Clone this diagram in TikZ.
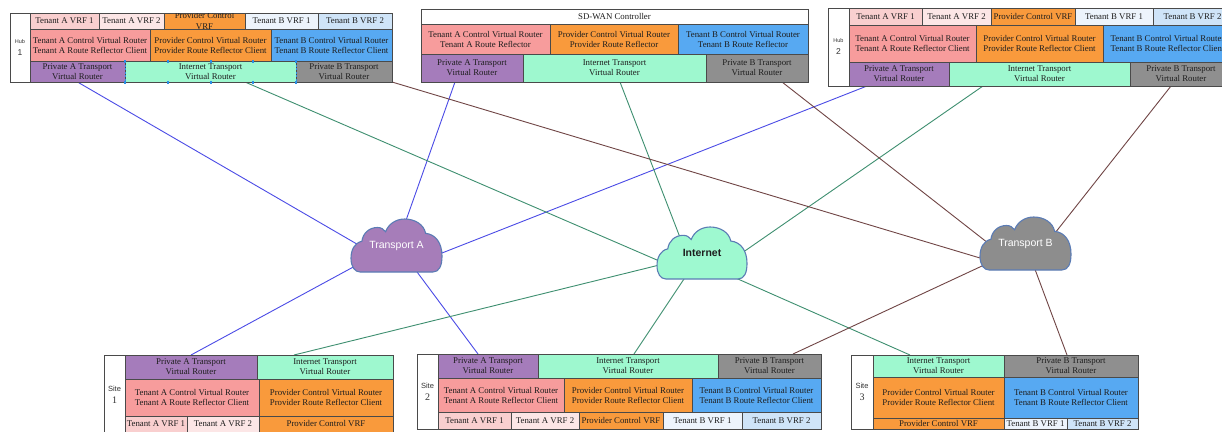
\documentclass[tikz,border=0pt]{standalone}
\usepackage{fontspec}
\setmainfont{Liberation Serif}
\newfontfamily\labelsans{Liberation Sans}
\usetikzlibrary{calc,backgrounds}

\definecolor{boxline}{HTML}{4A4A4A}
\definecolor{vrfAa}{HTML}{F9CFCF}
\definecolor{vrfAb}{HTML}{FCE6E6}
\definecolor{provc}{HTML}{F99A3C}
\definecolor{vrfBa}{HTML}{EDF4FC}
\definecolor{vrfBb}{HTML}{CFE4F8}
\definecolor{ctrlA}{HTML}{F79C9C}
\definecolor{ctrlB}{HTML}{57A9F2}
\definecolor{privA}{HTML}{A57CBB}
\definecolor{inetc}{HTML}{9EF8CF}
\definecolor{privB}{HTML}{8F8F8F}
\definecolor{cloudA}{HTML}{A67DB9}
\definecolor{cloudI}{HTML}{9EF9D0}
\definecolor{cloudB}{HTML}{8D8D8D}
\definecolor{cloudedge}{HTML}{5B7CB5}
\definecolor{lnA}{HTML}{4B4BE6}
\definecolor{lnI}{HTML}{3E8F70}
\definecolor{lnB}{HTML}{704545}
\definecolor{txt}{HTML}{1E1E1E}
\definecolor{labtxt}{HTML}{333333}
\definecolor{handle}{HTML}{2C8FE6}

\tikzset{
  cellbox/.style={rectangle, draw=boxline, line width=0.7pt, inner sep=0pt, outer sep=0pt},
  celltext/.style={inner sep=0pt, align=center, text=txt, font=\fontsize{8.8}{10}\selectfont},
  grouplab/.style={inner sep=0pt, align=center, text=labtxt},
  cloudst/.style={draw=cloudedge, line width=1.1pt},
  cloudtxt/.style={inner sep=0pt, font=\labelsans\fontsize{10.5}{12}\selectfont},
  linkA/.style={draw=lnA, line width=0.9pt},
  linkI/.style={draw=lnI, line width=0.9pt},
  linkB/.style={draw=lnB, line width=0.9pt},
  selside/.style={draw=handle, line width=0.8pt, dash pattern=on 2pt off 1.5pt},
}

% a filled box between two corners (pixel-style coordinates) with centred text
\newcommand\vrcell[7]{%
  \node[cellbox, fill=#6, minimum width={(#4-#2)*1pt}, minimum height={(#5-#3)*1pt}]
    (#1) at ({(#2+#4)/2},{(#3+#5)/2}) {};
  \node[celltext] (#1-t) at (#1.center) {#7};}

% cloud outline drawn in a 100x100 local frame
\newcommand\cloudshape[5]{%
  \begin{scope}[shift={(#1,#2)}, x=#3, y=#4]
    \draw[cloudst, fill=#5] (10,100) -- (90,100)
      .. controls (97,100) and (100,88) .. (100,70)
      .. controls (100,45) and (93,29) .. (82,27)
      .. controls (80,10) and (70,0) .. (59,0)
      .. controls (49,0) and (41,10) .. (38,24)
      .. controls (36,19) and (33,16) .. (29,16)
      .. controls (20,16) and (13,27) .. (12,42)
      .. controls (4,45) and (0,58) .. (0,74)
      .. controls (0,90) and (4,100) .. (10,100) -- cycle;
  \end{scope}}

\newcommand\ctrlAtxt{Tenant A Control Virtual Router\\Tenant A Route Reflector Client}
\newcommand\provtxt{Provider Control Virtual Router\\Provider Route Reflector Client}
\newcommand\ctrlBtxt{Tenant B Control Virtual Router\\Tenant B Route Reflector Client}
\newcommand\privAtxt{Private A Transport\\Virtual Router}
\newcommand\inettxt{Internet Transport\\Virtual Router}
\newcommand\privBtxt{Private B Transport\\Virtual Router}

\begin{document}
\begin{tikzpicture}[x=1pt, y=-1pt]
\useasboundingbox (0,0) rectangle (1222,431);
\clip (0,0) rectangle (1222,431);

% ---------------- Hub 1 ----------------
\vrcell{h1lab}{10}{13}{30}{82}{white}{}
\node[grouplab] (h1name) at (h1lab.center)
  {{\labelsans\fontsize{5.5}{6.5}\selectfont Hub}\\{\labelsans\fontsize{8.5}{9}\selectfont 1}};
\vrcell{h1av1}{30}{13}{99}{29}{vrfAa}{Tenant A VRF 1}
\vrcell{h1av2}{99}{13}{164}{29}{vrfAb}{Tenant A VRF 2}
\vrcell{h1pv}{164}{13}{245}{29}{provc}{}
\begin{scope}
  \clip (h1pv.south west) rectangle (h1pv.north east);
  \node[celltext, font=\fontsize{8.8}{11.5}\selectfont] (h1pv-t) at (h1pv.center) {Provider Control\\VRF};
\end{scope}
\vrcell{h1bv1}{245}{13}{318}{29}{vrfBa}{Tenant B VRF 1}
\vrcell{h1bv2}{318}{13}{392}{29}{vrfBb}{Tenant B VRF 2}
\vrcell{h1ac}{30}{29}{150}{61}{ctrlA}{\ctrlAtxt}
\vrcell{h1pc}{150}{29}{271}{61}{provc}{\provtxt}
\vrcell{h1bc}{271}{29}{392}{61}{ctrlB}{\ctrlBtxt}
\vrcell{h1pa}{30}{61}{125}{82}{privA}{\privAtxt}
\vrcell{h1in}{125}{61}{296}{82}{inetc}{\inettxt}
\vrcell{h1pb}{296}{61}{392}{82}{privB}{\privBtxt}
% selection frame on the hub 1 internet router
\draw[selside] (h1in.north west) -- (h1in.south west);
\draw[selside] (h1in.north east) -- (h1in.south east);
\foreach \t in {0,0.25,0.5,0.75,1} {
  \fill[handle] ($(h1in.north west)!\t!(h1in.north east)$) +(-1,-1.5) rectangle +(1,1.5);
  \fill[handle] ($(h1in.south west)!\t!(h1in.south east)$) +(-1,-1.5) rectangle +(1,1.5);
}

% ---------------- SD-WAN controller ----------------
\vrcell{ctt}{421}{9}{808}{24}{white}{SD-WAN Controller}
\vrcell{ctac}{421}{24}{550}{54}{ctrlA}{Tenant A Control Virtual Router\\Tenant A Route Reflector}
\vrcell{ctpc}{550}{24}{678}{54}{provc}{Provider Control Virtual Router\\Provider Route Reflector}
\vrcell{ctbc}{678}{24}{808}{54}{ctrlB}{Tenant B Control Virtual Router\\Tenant B Route Reflector}
\vrcell{ctpa}{421}{54}{523}{82}{privA}{\privAtxt}
\vrcell{ctin}{523}{54}{706}{82}{inetc}{\inettxt}
\vrcell{ctpb}{706}{54}{808}{82}{privB}{\privBtxt}

% ---------------- Hub 2 ----------------
\vrcell{h2lab}{828}{8}{849}{86}{white}{}
\node[grouplab] (h2name) at (h2lab.center)
  {{\labelsans\fontsize{5.5}{6.5}\selectfont Hub}\\{\labelsans\fontsize{8.5}{9}\selectfont 2}};
\vrcell{h2av1}{849}{8}{922}{25}{vrfAa}{Tenant A VRF 1}
\vrcell{h2av2}{922}{8}{991}{25}{vrfAb}{Tenant A VRF 2}
\vrcell{h2pv}{991}{8}{1075}{25}{provc}{Provider Control VRF}
\vrcell{h2bv1}{1075}{8}{1153}{25}{vrfBa}{Tenant B VRF 1}
\vrcell{h2bv2}{1153}{8}{1232}{25}{vrfBb}{Tenant B VRF 2}
\vrcell{h2ac}{849}{25}{976}{62}{ctrlA}{\ctrlAtxt}
\vrcell{h2pc}{976}{25}{1103}{62}{provc}{\provtxt}
\vrcell{h2bc}{1103}{25}{1232}{62}{ctrlB}{\ctrlBtxt}
\vrcell{h2pa}{849}{62}{949}{86}{privA}{\privAtxt}
\vrcell{h2in}{949}{62}{1130}{86}{inetc}{\inettxt}
\vrcell{h2pb}{1130}{62}{1232}{86}{privB}{\privBtxt}

% ---------------- Site 1 ----------------
\vrcell{s1lab}{104}{355}{125}{434}{white}{}
\node[grouplab] (s1name) at (s1lab.center)
  {\labelsans\fontsize{7.5}{11}\selectfont Site\\1};
\vrcell{s1pa}{125}{355}{257}{379}{privA}{\privAtxt}
\vrcell{s1in}{257}{355}{393}{379}{inetc}{\inettxt}
\vrcell{s1ac}{125}{379}{259}{416}{ctrlA}{\ctrlAtxt}
\vrcell{s1pc}{259}{379}{393}{416}{provc}{\provtxt}
\vrcell{s1av1}{125}{416}{187}{434}{vrfAa}{}
\vrcell{s1av2}{187}{416}{259}{434}{vrfAb}{}
\vrcell{s1pv}{259}{416}{393}{434}{provc}{}
\node[celltext] (s1av1-l) at ($(s1av1.west)!0.5!(s1av1.east)+(0,-1.5)$) {Tenant A VRF 1};
\node[celltext] (s1av2-l) at ($(s1av2.west)!0.5!(s1av2.east)+(0,-1.5)$) {Tenant A VRF 2};
\node[celltext] (s1pv-l) at ($(s1pv.west)!0.5!(s1pv.east)+(0,-1.5)$) {Provider Control VRF};

% ---------------- Site 2 ----------------
\vrcell{s2lab}{417}{354}{438}{429}{white}{}
\node[grouplab] (s2name) at (s2lab.center)
  {\labelsans\fontsize{7.5}{11}\selectfont Site\\2};
\vrcell{s2pa}{438}{354}{538}{378}{privA}{\privAtxt}
\vrcell{s2in}{538}{354}{718}{378}{inetc}{\inettxt}
\vrcell{s2pb}{718}{354}{821}{378}{privB}{\privBtxt}
\vrcell{s2ac}{438}{378}{564}{412}{ctrlA}{\ctrlAtxt}
\vrcell{s2pc}{564}{378}{692}{412}{provc}{\provtxt}
\vrcell{s2bc}{692}{378}{821}{412}{ctrlB}{\ctrlBtxt}
\vrcell{s2av1}{438}{412}{511}{429}{vrfAa}{Tenant A VRF 1}
\vrcell{s2av2}{511}{412}{579}{429}{vrfAb}{Tenant A VRF 2}
\vrcell{s2pv}{579}{412}{663}{429}{provc}{Provider Control VRF}
\vrcell{s2bv1}{663}{412}{742}{429}{vrfBa}{Tenant B VRF 1}
\vrcell{s2bv2}{742}{412}{821}{429}{vrfBb}{Tenant B VRF 2}

% ---------------- Site 3 ----------------
\vrcell{s3lab}{851}{355}{873}{429}{white}{}
\node[grouplab] (s3name) at (s3lab.center)
  {\labelsans\fontsize{7.5}{11}\selectfont Site\\3};
\vrcell{s3in}{873}{355}{1004}{377}{inetc}{\inettxt}
\vrcell{s3pb}{1004}{355}{1138}{377}{privB}{\privBtxt}
\vrcell{s3pc}{873}{377}{1004}{418}{provc}{\provtxt}
\vrcell{s3bc}{1004}{377}{1138}{418}{ctrlB}{\ctrlBtxt}
\vrcell{s3pv}{873}{418}{1004}{429}{provc}{Provider Control VRF}
\vrcell{s3bv1}{1004}{418}{1067}{429}{vrfBa}{Tenant B VRF 1}
\vrcell{s3bv2}{1067}{418}{1138}{429}{vrfBb}{Tenant B VRF 2}

% ---------------- transport clouds ----------------
\cloudshape{351}{219}{0.91pt}{-0.53pt}{cloudA}
\node[cloudtxt, text=white] (ta) at (396.5,245.5) {Transport A};
\cloudshape{657}{227}{0.90pt}{-0.52pt}{cloudI}
\node[cloudtxt, text=txt, font=\labelsans\bfseries\fontsize{10.5}{12}\selectfont] (inet) at (702,253) {Internet};
\cloudshape{980}{217}{0.91pt}{-0.53pt}{cloudB}
\node[cloudtxt, text=white] (tb) at (1025.5,243.5) {Transport B};

% ---------------- links, kept behind boxes and clouds ----------------
\begin{pgfonlayer}{background}
  \fill[white] (0,0) rectangle (1222,431);
  % transport A
  \draw[linkA] (h1pa.south) -- ($(ta)+(-34.5,1.5)$);
  \draw[linkA] ($(ctpa.south)+(-17,0)$) -- ($(ta)+(7.5,-19.5)$);
  \draw[linkA] ($(h2pa.south)+(-32,0)$) -- ($(ta)+(39.9,9.7)$);
  \draw[linkA] (s1pa.north) -- ($(ta)+(-39.5,19.5)$);
  \draw[linkA] ($(s2pa.north)+(-10,0)$) -- ($(ta)+(17,21.7)$);
  % internet
  \draw[linkI] ($(h1in.south)+(34.5,0)$) -- ($(inet)+(-39.5,9.4)$);
  \draw[linkI] ($(ctin.south)+(5.5,0)$) -- ($(inet)+(-20,-10.4)$);
  \draw[linkI] ($(h2in.south)+(-56.5,0)$) -- ($(inet)+(35,3.4)$);
  \draw[linkI] ($(s1in.north)+(-31,0)$) -- ($(inet)+(-41,11.6)$);
  \draw[linkI] ($(s2in.north)+(6,0)$) -- ($(inet)+(-14.7,21)$);
  \draw[linkI] ($(s3in.north)+(-28.5,0)$) -- ($(inet)+(30.5,23.6)$);
  % transport B
  \draw[linkB] (h1pb.south east) -- ($(tb)+(-39.8,16.2)$);
  \draw[linkB] ($(ctpb.south)+(25,0)$) -- ($(tb)+(-32.8,3.2)$);
  \draw[linkB] ($(h2pb.south)+(-10,0)$) -- ($(tb)+(25.8,-5.8)$);
  \draw[linkB] ($(s2pb.north)+(23.5,0)$) -- ($(tb)+(-40.1,20.9)$);
  \draw[linkB] ($(s3pb.north)+(-4,0)$) -- ($(tb)+(8.4,22.9)$);
\end{pgfonlayer}
\end{tikzpicture}
\end{document}
